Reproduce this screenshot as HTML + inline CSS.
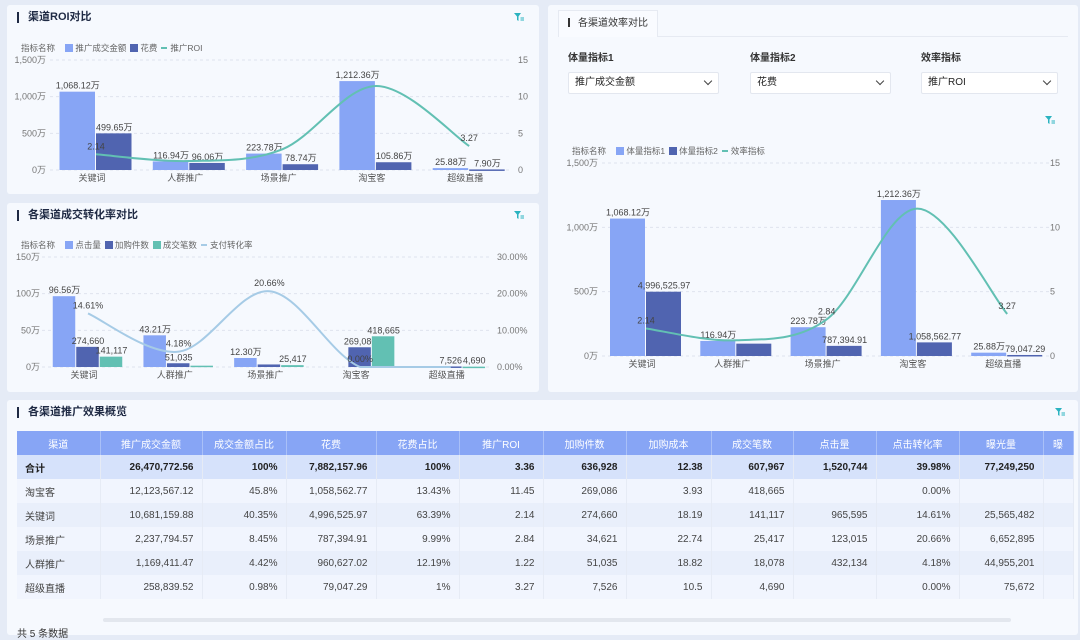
<!DOCTYPE html>
<html><head><meta charset="utf-8">
<style>
*{box-sizing:border-box;margin:0;padding:0}
body{width:1080px;height:630px;overflow:hidden;background:#e5ebf6;font-family:"Liberation Sans","Noto Sans CJK SC",sans-serif;color:#333;position:relative}
.panel{position:absolute;background:#f6f9fe;border-radius:3px}
.ttl{position:absolute;font-size:11px;font-weight:bold;color:#1f2a44;padding-left:9px;border-left:2px solid #1f2a44;line-height:11px}
.filter{position:absolute;width:10px;height:10px}
.legend{position:absolute;font-size:8.5px;color:#666;display:flex;align-items:center;gap:4px;white-space:nowrap}
.sq{display:inline-block;width:8px;height:8px;margin-right:2px;vertical-align:-1px}
.dash{display:inline-block;width:6px;height:2px;margin-right:3px;vertical-align:2px}
.lab{position:absolute;font-size:10px;font-weight:bold;color:#333}
.sel{position:absolute;height:22px;background:#fff;border:1px solid #e3e7ef;border-radius:2px;font-size:10px;padding:0 6px;line-height:20px;color:#222}
.sel span.chev{position:absolute;right:7px;top:5px;width:6px;height:6px;border-right:1.3px solid #444;border-bottom:1.3px solid #444;transform:rotate(45deg)}
table{position:absolute;left:17px;top:431px;border-collapse:collapse;font-size:10px;table-layout:fixed}
th{background:#87a5f5;color:#fff;font-weight:normal;height:24px;border-right:1px solid #a9c0f8;text-align:center}
td{height:24px;text-align:right;padding-right:8px;border-right:1px solid #e6ebf5;color:#444}
td:first-child{text-align:left;padding-left:8px}
tr.tot td{background:#d6e2fb;font-weight:bold;color:#222}
tr.r0 td{background:#f1f5fe}
tr.r1 td{background:#e9effb}
svg{position:absolute;left:0;top:0}
</style></head><body>
<div class="panel" style="left:7px;top:5px;width:532px;height:189px"></div>
<div class="panel" style="left:7px;top:203px;width:532px;height:189px"></div>
<div class="panel" style="left:548px;top:5px;width:530px;height:387px"></div>
<div class="panel" style="left:7px;top:400px;width:1071px;height:235px"></div>

<div class="ttl" style="left:17px;top:12px">渠道ROI对比</div>
<svg class="filter" style="left:514px;top:12px;width:10px;height:10px" viewBox="0 0 10 10"><path d="M0 1H7L4.5 4.5V9L3 8V4.5Z" fill="#2bb3c0"/><path d="M6.5 6H10M6.5 8H10" stroke="#2bb3c0" stroke-width="1"/></svg>
<div class="legend" style="left:21px;top:42px"><span>指标名称</span>&nbsp;<span><i class="sq" style="background:#87a5f5"></i>推广成交金额</span><span><i class="sq" style="background:#5064b0"></i>花费</span><span><i class="dash" style="background:#62c0b3"></i>推广ROI</span></div>

<div class="ttl" style="left:17px;top:210px">各渠道成交转化率对比</div>
<svg class="filter" style="left:514px;top:210px;width:10px;height:10px" viewBox="0 0 10 10"><path d="M0 1H7L4.5 4.5V9L3 8V4.5Z" fill="#2bb3c0"/><path d="M6.5 6H10M6.5 8H10" stroke="#2bb3c0" stroke-width="1"/></svg>
<div class="legend" style="left:21px;top:239px"><span>指标名称</span>&nbsp;<span><i class="sq" style="background:#87a5f5"></i>点击量</span><span><i class="sq" style="background:#5064b0"></i>加购件数</span><span><i class="sq" style="background:#62c0b3"></i>成交笔数</span><span><i class="dash" style="background:#a6cbe6"></i>支付转化率</span></div>

<div style="position:absolute;left:558px;top:10px;width:100px;height:27px;background:#f9fbff;border:1px solid #e6eaf2;border-bottom:none;font-size:10px;line-height:25px;padding-left:9px;color:#333"><span style="display:inline-block;width:2px;height:9px;background:#333;margin-right:8px;vertical-align:-1px"></span>各渠道效率对比</div>
<div style="position:absolute;left:658px;top:36px;width:410px;height:1px;background:#e6eaf2"></div>
<div class="lab" style="left:568px;top:49px">体量指标1</div>
<div class="lab" style="left:750px;top:49px">体量指标2</div>
<div class="lab" style="left:921px;top:49px">效率指标</div>
<div class="sel" style="left:568px;top:72px;width:151px">推广成交金额<span class="chev"></span></div>
<div class="sel" style="left:750px;top:72px;width:141px">花费<span class="chev"></span></div>
<div class="sel" style="left:921px;top:72px;width:137px">推广ROI<span class="chev"></span></div>
<svg class="filter" style="left:1045px;top:115px;width:10px;height:10px" viewBox="0 0 10 10"><path d="M0 1H7L4.5 4.5V9L3 8V4.5Z" fill="#2bb3c0"/><path d="M6.5 6H10M6.5 8H10" stroke="#2bb3c0" stroke-width="1"/></svg>
<div class="legend" style="left:572px;top:145px"><span>指标名称</span>&nbsp;<span><i class="sq" style="background:#87a5f5"></i>体量指标1</span><span><i class="sq" style="background:#5064b0"></i>体量指标2</span><span><i class="dash" style="background:#62c0b3"></i>效率指标</span></div>

<div class="ttl" style="left:17px;top:407px">各渠道推广效果概览</div>
<svg class="filter" style="left:1055px;top:407px;width:10px;height:10px" viewBox="0 0 10 10"><path d="M0 1H7L4.5 4.5V9L3 8V4.5Z" fill="#2bb3c0"/><path d="M6.5 6H10M6.5 8H10" stroke="#2bb3c0" stroke-width="1"/></svg>

<table>
<colgroup><col style="width:83px"><col style="width:102px"><col style="width:84px"><col style="width:90px"><col style="width:83px"><col style="width:84px"><col style="width:83px"><col style="width:85px"><col style="width:82px"><col style="width:83px"><col style="width:83px"><col style="width:84px"><col style="width:30px"></colgroup>
<tr><th>渠道</th><th>推广成交金额</th><th>成交金额占比</th><th>花费</th><th>花费占比</th><th>推广ROI</th><th>加购件数</th><th>加购成本</th><th>成交笔数</th><th>点击量</th><th>点击转化率</th><th>曝光量</th><th>曝</th></tr>
<tr class="tot"><td>合计</td><td>26,470,772.56</td><td>100%</td><td>7,882,157.96</td><td>100%</td><td>3.36</td><td>636,928</td><td>12.38</td><td>607,967</td><td>1,520,744</td><td>39.98%</td><td>77,249,250</td><td></td></tr>
<tr class="r0"><td>淘宝客</td><td>12,123,567.12</td><td>45.8%</td><td>1,058,562.77</td><td>13.43%</td><td>11.45</td><td>269,086</td><td>3.93</td><td>418,665</td><td></td><td>0.00%</td><td></td><td></td></tr>
<tr class="r1"><td>关键词</td><td>10,681,159.88</td><td>40.35%</td><td>4,996,525.97</td><td>63.39%</td><td>2.14</td><td>274,660</td><td>18.19</td><td>141,117</td><td>965,595</td><td>14.61%</td><td>25,565,482</td><td></td></tr>
<tr class="r0"><td>场景推广</td><td>2,237,794.57</td><td>8.45%</td><td>787,394.91</td><td>9.99%</td><td>2.84</td><td>34,621</td><td>22.74</td><td>25,417</td><td>123,015</td><td>20.66%</td><td>6,652,895</td><td></td></tr>
<tr class="r1"><td>人群推广</td><td>1,169,411.47</td><td>4.42%</td><td>960,627.02</td><td>12.19%</td><td>1.22</td><td>51,035</td><td>18.82</td><td>18,078</td><td>432,134</td><td>4.18%</td><td>44,955,201</td><td></td></tr>
<tr class="r0"><td>超级直播</td><td>258,839.52</td><td>0.98%</td><td>79,047.29</td><td>1%</td><td>3.27</td><td>7,526</td><td>10.5</td><td>4,690</td><td></td><td>0.00%</td><td>75,672</td><td></td></tr>
</table>
<div style="position:absolute;left:103px;top:618px;width:908px;height:4px;background:#e3e7ee;border-radius:2px"></div>
<div style="position:absolute;left:17px;top:625px;font-size:10px;color:#333">共 5 条数据</div>

<svg id="sv" width="1080" height="630"></svg>
<script>
const cats=['关键词','人群推广','场景推广','淘宝客','超级直播'];
const gmvWan=[1068.12,116.94,223.78,1212.36,25.88];
const spendWan=[499.65,96.06,78.74,105.86,7.90];
const spendRaw=['4,996,525.97','960,627.02','787,394.91','1,058,562.77','79,047.29'];
const roi=[2.14,1.22,2.84,11.45,3.27];
const clicksWan=[96.56,43.21,12.30,null,null];
const cartItems=[274660,51035,34621,269086,7526];
const orders=[141117,18078,25417,418665,4690];
const convRate=[14.61,4.18,20.66,0.00,0.00];
const leftTicks1=['0万','500万','1,000万','1,500万'];
const rightTicks1=['0','5','10','15'];
const leftTicks2=['0万','50万','100万','150万'];
const rightTicks2=['0.00%','10.00%','20.00%','30.00%'];

const NS='http://www.w3.org/2000/svg',sv=document.getElementById('sv');
function mk(t,a,txt){const e=document.createElementNS(NS,t);for(const k in a)e.setAttribute(k,a[k]);if(txt!=null)e.textContent=txt;sv.appendChild(e);return e;}
function fmt(n){return n.toLocaleString('en-US');}
function axes(c,lt,rt,nm){
  c.y=v=>c.yb-(v/c.max)*(c.yb-c.yt);
  c.yr=v=>c.yb-(v/c.rmax)*(c.yb-c.yt);
  c.x=i=>c.x0+i*c.step;
  for(let i=0;i<lt.length;i++){
    const yy=c.yb-i*(c.yb-c.yt)/(lt.length-1);
    let g=mk('line',{x1:c.gl,x2:c.gr,y1:yy,y2:yy,stroke:'#dfe4ee','stroke-dasharray':'3,3'});
    
    let t=mk('text',{x:c.lx,y:yy+3,'text-anchor':'end','font-size':9,fill:'#777'},lt[i]);
    
    let r=mk('text',{x:c.rx,y:yy+3,'font-size':9,fill:'#777'},rt[i]);
    
  }
  cats.forEach((s,i)=>{let t=mk('text',{x:c.x(i)-4,y:c.yb+11,'text-anchor':'middle','font-size':9,fill:'#555'},s);
    });
}
function bars(c,vals,k,n,color,labels,nm){
  vals.forEach((v,i)=>{if(v==null)return;
    const bx=c.x(i)-n*c.bw/2+k*c.bw, y=c.y(v);
    let r=mk('rect',{x:bx,y:y,width:c.bw-1,height:Math.max(c.yb-y,1.5),fill:color});
    
    if(labels&&labels[i]!=null){let t=mk('text',{x:bx+c.bw/2,y:y-3,'text-anchor':'middle','font-size':9,fill:'#444'},labels[i]);
      }
  });
}
function line(c,vals,color,labels,nm){
  const p=vals.map((v,i)=>[c.x(i),c.yr(v)]);
  const cl=y=>Math.min(y,c.yb);
  let d='M'+p[0];
  for(let i=0;i<p.length-1;i++){const p0=p[i-1]||p[i],p1=p[i],p2=p[i+1],p3=p[i+2]||p2;
    d+=' C'+[p1[0]+(p2[0]-p0[0])/6,cl(p1[1]+(p2[1]-p0[1])/6)]+' '+[p2[0]-(p3[0]-p1[0])/6,cl(p2[1]-(p3[1]-p1[1])/6)]+' '+p2;}
  let e=mk('path',{d:d,fill:'none',stroke:color,'stroke-width':2});
  
  p.forEach((q,i)=>{if(labels[i]==null)return;let t=mk('text',{x:q[0],y:q[1]-5,'text-anchor':'middle','font-size':9,fill:'#444'},labels[i]);
    });
}
// chart 1
const c1={x0:96,step:93.3,yb:170,yt:60,max:1500,rmax:15,bw:36.5,gl:50,gr:510,lx:46,rx:518};
axes(c1,leftTicks1,rightTicks1,'roi-chart');
bars(c1,gmvWan,0,2,'#87a5f5',gmvWan.map(v=>fmt(v.toFixed(2)*1).replace(/(\.\d)$/,'$10')+'万'),'roi-chart-gmv');
bars(c1,spendWan,1,2,'#5064b0',spendWan.map(v=>v.toFixed(2)+'万'),'roi-chart-spend');
line(c1,roi,'#62c0b3',roi.map((v,i)=>(i==0||i==4)?v.toFixed(2):null),'roi-chart-roi');
// chart 2
const c2={x0:88,step:90.7,yb:367,yt:257,max:150,rmax:30,bw:23.5,gl:42,gr:490,lx:40,rx:497};
axes(c2,leftTicks2,rightTicks2,'conv-chart');
bars(c2,clicksWan,0,3,'#87a5f5',clicksWan.map(v=>v==null?null:v.toFixed(2)+'万'),'conv-chart-clicks');
bars(c2,cartItems.map(v=>v/1e4),1,3,'#5064b0',cartItems.map((v,i)=>i==2?null:fmt(v)),'conv-chart-cart');
bars(c2,orders.map(v=>v/1e4),2,3,'#62c0b3',orders.map((v,i)=>i==1?null:fmt(v)),'conv-chart-orders');
line(c2,convRate,'#a6cbe6',convRate.map((v,i)=>i==4?null:v.toFixed(2)+'%'),'conv-chart-rate');
// chart 3
const c3={x0:646,step:90.3,yb:356,yt:163,max:1500,rmax:15,bw:36,gl:602,gr:1052,lx:598,rx:1050};
axes(c3,leftTicks1,rightTicks1,'eff-chart');
bars(c3,gmvWan,0,2,'#87a5f5',gmvWan.map(v=>fmt(v.toFixed(2)*1).replace(/(\.\d)$/,'$10')+'万'),'eff-chart-vol1');
bars(c3,spendWan,1,2,'#5064b0',spendRaw.map((v,i)=>i==1?null:v),'eff-chart-vol2');
line(c3,roi,'#62c0b3',roi.map((v,i)=>(i==1||i==3)?null:v.toFixed(2)),'eff-chart-rate');
</script>
</body></html>
